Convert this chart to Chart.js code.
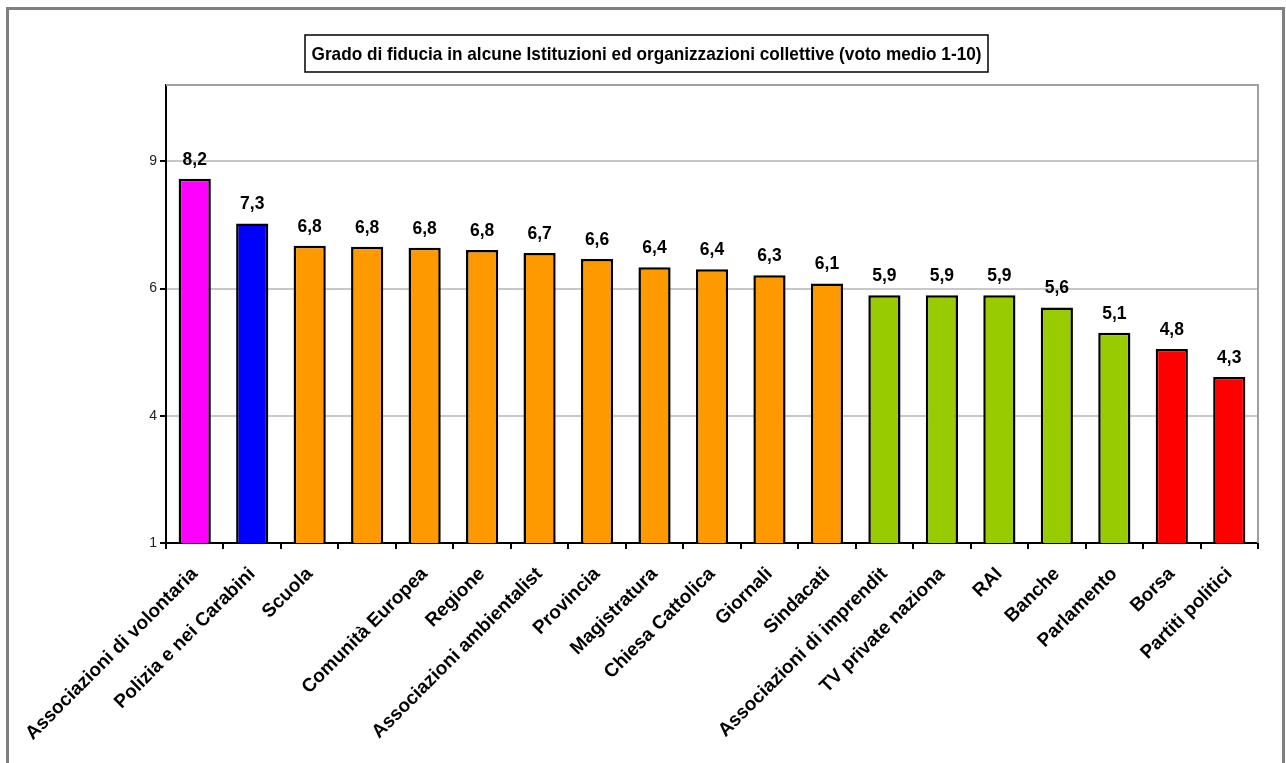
<!DOCTYPE html>
<html lang="it">
<head>
<meta charset="utf-8">
<title>Grado di fiducia</title>
<script src="https://cdn.jsdelivr.net/npm/chart.js@4.4.1/dist/chart.umd.min.js"></script>
<style>
  html, body { margin: 0; padding: 0; background: #fff; }
  #wrap { width: 1286px; height: 763px; position: relative; }
</style>
</head>
<body>
<div id="wrap"><canvas id="fiducia"></canvas></div>
<script>
// istituzioni, nell'ordine del grafico (etichette come appaiono sull'asse)
const istituzioni = [
    'Associazioni di volontaria', 'Polizia e nei Carabini', 'Scuola', '',
    'Comunità Europea', 'Regione', 'Associazioni ambientalist', 'Provincia',
    'Magistratura', 'Chiesa Cattolica', 'Giornali', 'Sindacati',
    'Associazioni di imprendit', 'TV private naziona', 'RAI', 'Banche',
    'Parlamento', 'Borsa', 'Partiti politici'
];

// voto medio 1-10
const votoMedio = [
    8.16, 7.28, 6.84, 6.82, 6.80, 6.76, 6.70, 6.58, 6.42, 6.38,
    6.26, 6.10, 5.87, 5.87, 5.87, 5.63, 5.13, 4.81, 4.26
];

// valori delle tacche dell'asse y (etichette arrotondate all'intero)
const tickValori = [1, 3.5, 6, 8.5, 10];

const titolo = 'Grado di fiducia in alcune Istituzioni ed organizzazioni collettive (voto medio 1-10)';

const FONT = 'Arial, "Liberation Sans", sans-serif';

const coloriBarre = [
    '#ff00ff', '#0000ff',
    '#ff9900', '#ff9900', '#ff9900', '#ff9900', '#ff9900', '#ff9900',
    '#ff9900', '#ff9900', '#ff9900', '#ff9900',
    '#99cc00', '#99cc00', '#99cc00', '#99cc00', '#99cc00',
    '#ff0000', '#ff0000'
];

const cornice = {
    id: 'cornice',
    beforeDraw(chart) {
        const { ctx, width, height } = chart;
        ctx.save();
        ctx.fillStyle = '#fff';
        ctx.fillRect(0, 0, width, height);
        ctx.strokeStyle = '#808080';
        ctx.lineWidth = 3;
        ctx.strokeRect(7.5, 8.5, 1276, height + 20);
        ctx.restore();
    },
    beforeDatasetsDraw(chart) {
        const { ctx, chartArea: a } = chart;
        ctx.save();
        ctx.strokeStyle = '#a0a0a0';
        ctx.lineWidth = 2;
        ctx.beginPath();
        ctx.moveTo(a.left, a.top);
        ctx.lineTo(a.right, a.top);
        ctx.lineTo(a.right, a.bottom);
        ctx.stroke();
        ctx.restore();
    },
    afterDatasetsDraw(chart) {
        const { ctx } = chart;
        ctx.save();
        ctx.fillStyle = '#000';
        ctx.font = 'bold 17.5px ' + FONT;
        ctx.textAlign = 'center';
        ctx.textBaseline = 'alphabetic';
        chart.getDatasetMeta(0).data.forEach((bar, i) => {
            const testo = votoMedio[i].toFixed(1).replace('.', ',');
            ctx.fillText(testo, bar.x, bar.y - 14);
        });
        ctx.restore();
    },
    afterDraw(chart) {
        const { ctx } = chart;
        const bx = 305, by = 35, bw = 683, bh = 37;
        ctx.save();
        ctx.fillStyle = '#fff';
        ctx.fillRect(bx, by, bw, bh);
        ctx.strokeStyle = '#000';
        ctx.lineWidth = 1.5;
        ctx.strokeRect(bx, by, bw, bh);
        // testo stretto: corpo alto, compresso in larghezza
        ctx.font = 'bold 19px ' + FONT;
        const w = ctx.measureText(titolo).width;
        ctx.translate(bx + bw / 2, by + bh / 2 + 1);
        ctx.scale(670 / w, 1);
        ctx.fillStyle = '#000';
        ctx.textAlign = 'center';
        ctx.textBaseline = 'middle';
        ctx.fillText(titolo, 0, 0);
        ctx.restore();
    }
};

new Chart(document.getElementById('fiducia'), {
    type: 'bar',
    data: {
        labels: istituzioni,
        datasets: [{
            data: votoMedio,
            backgroundColor: coloriBarre,
            borderColor: '#000',
            borderWidth: 2.5,
            categoryPercentage: 1,
            barPercentage: 0.56
        }]
    },
    options: {
        responsive: true,
        maintainAspectRatio: false,
        animation: false,
        layout: { padding: { left: 10, right: 28, top: 85, bottom: 0 } },
        plugins: {
            legend: { display: false },
            tooltip: { enabled: false },
            title: { display: false }
        },
        scales: {
            x: {
                offset: true,
                grid: {
                    offset: true,
                    drawOnChartArea: false,
                    drawTicks: true,
                    tickLength: 6,
                    tickColor: '#000',
                    color: '#000',
                    lineWidth: 2
                },
                border: { color: '#000', width: 2 },
                ticks: {
                    autoSkip: false,
                    minRotation: 45,
                    maxRotation: 45,
                    padding: 14,
                    color: '#000',
                    font: { family: FONT, size: 19, weight: 'bold' }
                },
                afterFit(s) {
                    s.height = 220;
                    s.paddingLeft = 0;
                    s.paddingRight = 0;
                }
            },
            y: {
                min: 1,
                max: 10,
                afterBuildTicks(s) {
                    s.ticks = tickValori.map(value => ({ value }));
                },
                grid: {
                    color: c => (c.tick && (c.tick.value === 1)) ? 'rgba(0,0,0,0)' : '#c8c8c8',
                    lineWidth: 2,
                    tickLength: 6,
                    tickColor: c => (c.tick && c.tick.value === 10) ? 'rgba(0,0,0,0)' : '#000'
                },
                border: { color: '#000', width: 2 },
                ticks: {
                    callback: v => v === 10 ? '' : String(Math.round(v)),
                    color: '#222',
                    padding: 3,
                    font: { family: FONT, size: 14 }
                },
                afterFit(s) {
                    s.width = 156;
                }
            }
        }
    },
    plugins: [cornice]
});
</script>
</body>
</html>
